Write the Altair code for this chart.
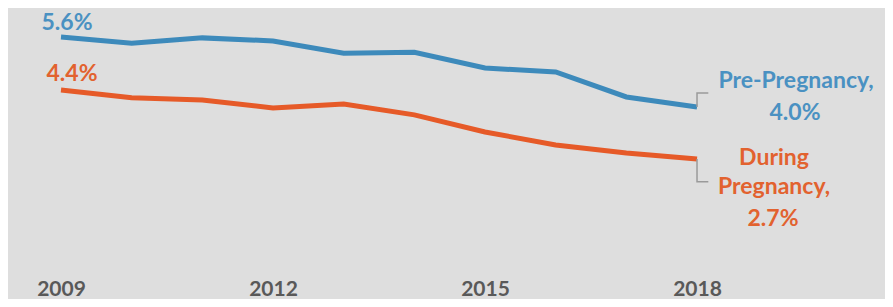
import altair as alt
import pandas as pd

years = [2009, 2010, 2011, 2012, 2013, 2014, 2015, 2016, 2017, 2018]
pre_pregnancy = [5.6, 5.46, 5.58, 5.51, 5.23, 5.25, 4.89, 4.80, 4.23, 4.0]
during_pregnancy = [4.39, 4.21, 4.16, 3.98, 4.07, 3.82, 3.43, 3.13, 2.95, 2.81]
tick_years = [2009, 2012, 2015, 2018]

BLUE = "#3d8abb"
ORANGE = "#e65a28"
BLUE_T = "#4a91c2"
ORANGE_T = "#e2622f"
BG = "#dedede"
FONT = "Lato"

df = pd.DataFrame({
    "year": years * 2,
    "value": pre_pregnancy + during_pregnancy,
    "series": ["Pre-Pregnancy"] * len(years) + ["During Pregnancy"] * len(years),
})

lines = alt.Chart(df).mark_line(strokeWidth=5).encode(
    x=alt.X("year:Q", scale=alt.Scale(domain=[2008.25, 2020.66], nice=False, zero=False),
            axis=alt.Axis(values=tick_years, format="d", title=None, grid=False,
                          domain=False, ticks=False, labelFontSize=21,
                          labelFont=FONT, labelFontWeight="bold", labelColor="#595959",
                          labelPadding=8)),
    y=alt.Y("value:Q", scale=alt.Scale(domain=[0.274, 6.263], nice=False, zero=False), axis=None),
    color=alt.Color("series:N", scale=alt.Scale(domain=["Pre-Pregnancy", "During Pregnancy"],
                                                 range=[BLUE, ORANGE]), legend=None),
)

# bracket connectors near the line ends
seg = pd.DataFrame({
    "year": [2018, 2018, 2018.16, 2018, 2018, 2018.16],
    "value": [pre_pregnancy[-1], 4.32, 4.32, during_pregnancy[-1], 2.29, 2.29],
    "g": ["a", "a", "a", "b", "b", "b"],
    "o": [0, 1, 2, 0, 1, 2],
})
brackets = alt.Chart(seg).mark_line(color="#9a9a9a", strokeWidth=1.5).encode(
    x="year:Q", y="value:Q", detail="g:N", order="o:Q",
)

lab = pd.DataFrame({
    "year": [2009, 2009, 2018, 2018, 2018, 2018, 2018],
    "value": [pre_pregnancy[0], during_pregnancy[0], pre_pregnancy[-1], pre_pregnancy[-1],
              during_pregnancy[-1], during_pregnancy[-1], during_pregnancy[-1]],
    "t": ["5.6%", "4.4%", "Pre-Pregnancy,", "4.0%", "During", "Pregnancy,", "2.7%"],
})
dxs = [6, 11, 99, 98, 77, 77, 76]
dys = [-14, -16, -26, 6, -1, 28, 60]
cols = [BLUE_T, ORANGE_T, BLUE_T, BLUE_T, ORANGE_T, ORANGE_T, ORANGE_T]

labels = []
for i in range(len(lab)):
    labels.append(
        alt.Chart(lab.iloc[[i]].reset_index(drop=True)).mark_text(
            font=FONT, fontWeight="bold", fontSize=23, color=cols[i], dx=dxs[i], dy=dys[i],
            align="center", baseline="middle",
        ).encode(x="year:Q", y="value:Q", text="t:N")
    )

chart = alt.layer(lines, brackets, *labels).properties(
    width=877, height=262,
    autosize=alt.AutoSizeParams(type="none"),
    padding={"left": 0, "top": 0, "right": 0, "bottom": 29},
    background=BG,
).configure_view(fill=BG, strokeWidth=0)

chart.save("out.html", embed_options={"renderer": "svg", "actions": False})
